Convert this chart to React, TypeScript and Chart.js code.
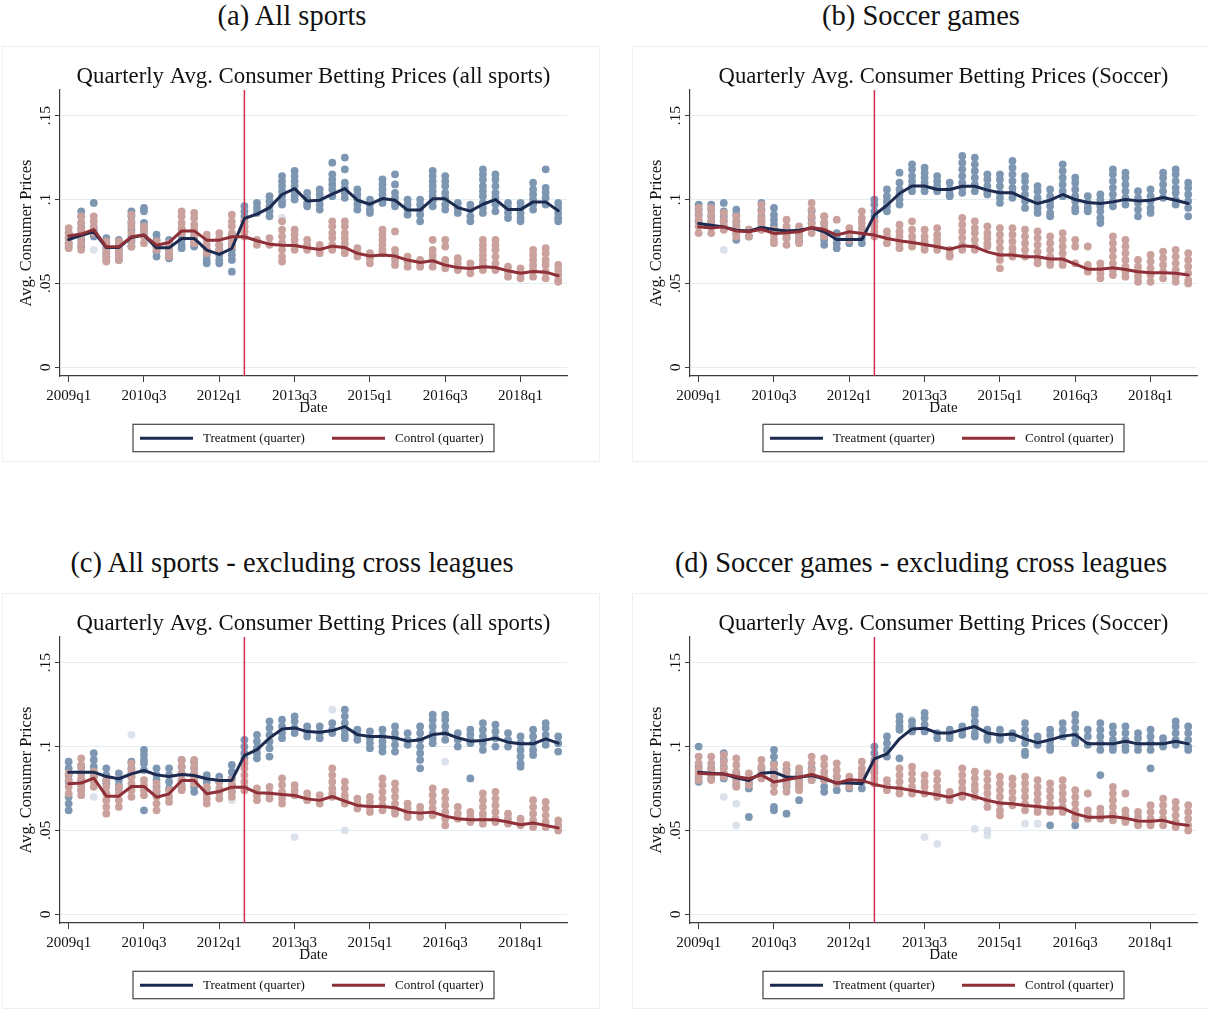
import React, { useEffect, useRef } from "react";
import { Chart, registerables } from "chart.js";

Chart.register(...registerables);

// ---------- categories / labels ----------
const quarters = [
  "2009q1", "2009q2", "2009q3", "2009q4", "2010q1", "2010q2", "2010q3", "2010q4",
  "2011q1", "2011q2", "2011q3", "2011q4", "2012q1", "2012q2", "2012q3", "2012q4",
  "2013q1", "2013q2", "2013q3", "2013q4", "2014q1", "2014q2", "2014q3", "2014q4",
  "2015q1", "2015q2", "2015q3", "2015q4", "2016q1", "2016q2", "2016q3", "2016q4",
  "2017q1", "2017q2", "2017q3", "2017q4", "2018q1", "2018q2", "2018q3", "2018q4",
];
const xTickLabels = ["2009q1", "2010q3", "2012q1", "2013q3", "2015q1", "2016q3", "2018q1"];
const yTickValues = [0, 0.05, 0.1, 0.15];
const yTickLabels = ["0", ".05", ".1", ".15"];
const policyQuarter = "2012q3";
const seriesNames = ["Treatment (quarter)", "Control (quarter)"];
const yAxisTitle = "Avg. Consumer Prices";
const xAxisTitle = "Date";
const captions = [
  "(a) All sports",
  "(b) Soccer games",
  "(c) All sports - excluding cross leagues",
  "(d) Soccer games - excluding cross leagues",
];
const titles = [
  "Quarterly Avg. Consumer Betting Prices (all sports)",
  "Quarterly Avg. Consumer Betting Prices (Soccer)",
  "Quarterly Avg. Consumer Betting Prices (all sports)",
  "Quarterly Avg. Consumer Betting Prices (Soccer)",
];

// ---------- values (in thousandths) ----------
// Panel (a)
const aTreatMean = [76.2, 78.6, 80.8, 71.4, 71.4, 77.4, 78.8, 71.2, 71.2, 76.8, 76.8, 69.8, 67.3, 70.8, 88.7, 91.3, 95.2, 103, 106.5, 99.2, 99.6, 103.2, 106.5, 99.6, 97.2, 100.6, 99.6, 93.7, 93.7, 100.4, 100.4, 95.2, 93.1, 97.2, 100, 94, 94, 98.6, 98.6, 93.3];
const aCtrlMean = [78.2, 79.4, 82.1, 71.8, 71.8, 77.8, 78.8, 72.8, 74.4, 81.3, 81.3, 75.8, 75.8, 77.8, 77.8, 75.4, 73.4, 72.8, 72.6, 71.2, 70.2, 72.2, 71.4, 67.9, 66.3, 66.9, 66.3, 63.9, 62.5, 63.5, 60.9, 59.5, 58.9, 59.9, 59.5, 57.5, 56, 57.1, 56.7, 54.6];
const aTreatDots = [
  [80, 77, 74, 72], [93, 90, 86, 83, 80, 76, 72], [98, 82, 80, 78], [77, 74, 71, 68, 66, 64],
  [76, 73, 70, 67, 64], [93, 90, 86, 82, 78, 75, 72], [95, 93, 86, 82, 79], [79, 76, 72, 69, 66],
  [76, 73, 70, 67, 65], [82, 79, 76, 73, 71], [81, 78, 75, 72], [70, 67, 64, 62],
  [73, 70, 67, 64, 62], [79, 76, 73, 70, 67, 64, 57], [96, 93, 90, 87, 84, 81], [98, 95, 92],
  [102, 99, 96, 93, 90], [114, 111, 108, 105, 102, 99, 97], [117, 114, 111, 108, 105, 102, 100], [104, 101, 98, 96],
  [106, 103, 100, 97, 94], [122, 115, 112, 109, 106, 102], [125, 118, 110, 107, 104, 101], [106, 103, 100, 97, 94],
  [100, 97, 94, 92], [112, 109, 106, 103, 100, 98], [115, 109, 104, 101, 98, 96], [100, 97, 94, 91],
  [100, 97, 94, 91, 87], [117, 114, 111, 108, 105, 102, 99, 96], [114, 111, 108, 104, 101, 97, 94], [98, 95, 92],
  [97, 94, 90, 87], [118, 115, 112, 108, 105, 102, 98, 95, 92], [115, 112, 108, 104, 101, 97, 93], [98, 95, 92, 89],
  [98, 95, 92, 89, 87], [110, 106, 103, 100, 97, 94], [118, 107, 104, 101, 97], [98, 95, 92, 89, 87],
];
const aCtrlDots = [
  [83, 80, 77, 74, 71], [90, 86, 82, 78, 74, 70], [90, 87, 84, 80], [75, 72, 69, 66, 63],
  [75, 72, 69, 66, 64], [91, 87, 84, 80, 76, 72], [84, 81, 78, 74], [75, 72, 70],
  [74, 71, 68, 66], [93, 90, 86, 83, 80], [92, 89, 85, 82, 78, 74], [79, 76, 73, 70, 68],
  [80, 77, 73, 70], [91, 87, 84, 80, 76, 72], [87, 84, 81, 78], [76, 73],
  [77, 73], [87, 82, 78, 74, 70, 66, 63], [82, 79, 76, 73, 70], [76, 73, 70],
  [73, 70, 68], [87, 84, 80, 77, 73, 70], [87, 84, 80, 77, 74, 71, 68], [71, 68, 66],
  [68, 65, 62], [82, 79, 76, 73, 70, 68], [81, 70, 67, 64, 61], [66, 63, 60],
  [64, 62, 60], [76, 70, 67, 64, 60], [76, 72, 64, 61, 59], [65, 62, 59, 58],
  [62, 59, 56], [76, 73, 70, 67, 64, 61, 58], [76, 73, 70, 66, 62, 58], [60, 57, 54],
  [59, 56, 53], [70, 67, 64, 61, 58, 54], [71, 68, 64, 61, 57, 53], [61, 58, 55, 52, 51],
];
const aFaintQ = [2, 17];
const aFaintV = [70, 89];

// Panel (b)
const bTreatMean = [85.7, 84.7, 83.7, 81.7, 81.2, 83.3, 82.1, 81.3, 81.7, 83.1, 80.8, 76.2, 76.2, 76.2, 90.7, 96.6, 103.6, 108.1, 108.1, 106, 106, 107.9, 107.9, 105.6, 104, 104, 100.6, 97.6, 99.6, 103, 100, 98.2, 97.6, 98.6, 100, 99.2, 99.6, 101.2, 99.6, 97.6];
const bCtrlMean = [83.7, 83.1, 83.7, 81.2, 80.8, 82.3, 79.8, 80.2, 80.8, 83.3, 82.1, 78.8, 80.8, 79.8, 78.8, 76.8, 75.4, 74.4, 73.2, 71.8, 70.4, 72.4, 71.8, 68.8, 66.9, 66.9, 65.9, 65.9, 64.5, 64.5, 61.5, 58.5, 58.5, 59.3, 58.3, 56.9, 56.3, 56.3, 56, 55];
const bTreatDots = [
  [97, 94, 91, 87], [97, 94, 90, 87, 84], [98, 93, 90, 87], [94, 91, 87, 84, 80, 76],
  [82, 78], [98, 94, 90, 87, 84], [95, 91, 88, 85, 82], [82, 79, 77],
  [82, 79, 75], [93, 89, 86, 83], [90, 86, 83, 79, 76, 73], [80, 77, 74, 71],
  [80, 77, 74], [80, 77, 74], [100, 97, 93, 90, 87], [106, 102, 99, 96, 93],
  [116, 110, 106, 103, 100, 97], [121, 118, 114, 111, 108, 105], [119, 116, 113, 110, 107, 105], [114, 111, 108, 105],
  [110, 106, 103, 102], [126, 122, 118, 114, 110, 107, 104], [125, 121, 117, 113, 109, 105], [115, 112, 108, 105, 103],
  [115, 112, 108, 104, 101, 98], [123, 119, 115, 111, 107, 104, 101], [114, 111, 107, 103, 99, 95], [108, 105, 101, 98, 95, 92],
  [106, 102, 99, 96, 92, 90], [121, 117, 113, 109, 105, 102], [113, 110, 106, 102, 99, 95, 93], [102, 98, 95, 93],
  [103, 100, 96, 93, 89, 86], [118, 115, 111, 107, 103, 99, 96], [116, 113, 109, 105, 101, 97], [105, 101, 98, 94, 90],
  [106, 102, 99, 95, 92], [116, 113, 109, 105, 101], [118, 115, 111, 107, 104, 100, 97], [110, 107, 103, 99, 95, 90],
];
const bCtrlDots = [
  [95, 91, 88, 84, 80], [95, 91, 87, 84, 80], [92, 88, 85, 82], [90, 86, 83, 80, 78],
  [82, 78], [97, 93, 89, 86, 82], [82, 79, 76, 74], [88, 84, 80, 77, 73],
  [84, 80, 77, 74], [98, 94, 90, 86, 83, 80], [90, 86, 83, 80, 78], [88],
  [83, 80, 76], [93, 89, 86, 83, 80], [87, 84, 81, 78], [81, 78, 74],
  [85, 81, 78, 74, 71], [87, 82, 78, 75, 72], [82, 78, 75, 72, 70], [83, 79, 76, 73, 70],
  [70, 67, 66], [89, 85, 81, 77, 73, 70], [87, 83, 80, 76, 72, 70], [84, 80, 77, 74, 72],
  [83, 79, 75, 71, 67, 64, 59], [83, 79, 75, 71, 68, 66], [82, 78, 74, 70, 66], [81, 77, 73, 69, 65, 62],
  [78, 74, 70, 66, 63, 61], [80, 76, 72, 68, 64, 61], [76, 72, 62], [72, 61, 59, 57],
  [62, 59, 56, 53], [78, 74, 70, 66, 62, 58, 55], [76, 72, 68, 64, 60, 57, 54], [64, 60, 57, 54, 51],
  [67, 63, 59, 55, 51], [69, 65, 61, 57, 53], [70, 66, 62, 58, 54, 51], [68, 64, 60, 56, 52, 50],
];
const bFaintQ = [2];
const bFaintV = [70];

// Panel (c)
const cTreatMean = [84.7, 84.7, 84.7, 82.1, 80.8, 83.7, 85.7, 83.1, 82.1, 83.3, 82.7, 80.8, 79.8, 79.8, 94.6, 98.2, 105, 110.5, 111.1, 108.9, 108.5, 109.5, 111.9, 107.1, 106, 106, 105.2, 103.2, 104, 107.1, 107.9, 105.2, 103.2, 103.6, 105, 102.6, 101.6, 101.6, 104.6, 102];
const cCtrlMean = [77.8, 78.2, 81.2, 70.4, 70.4, 76.2, 76.2, 69.8, 71.8, 79.8, 79.8, 71.8, 73.2, 75.8, 75.8, 72.4, 72.2, 71.4, 70.8, 68.8, 67.9, 70.2, 67.5, 64.9, 64.3, 64.3, 63.5, 60.9, 60.3, 60.9, 58.5, 56.9, 56.3, 56.3, 56.3, 55, 53.4, 54.4, 53, 51.4];
const cTreatDots = [
  [91, 87, 83, 79, 70, 66, 62], [88, 84, 80, 77, 74], [96, 92, 88, 85, 82], [87, 83, 80, 78],
  [84, 80, 77, 75], [91, 87, 84, 82], [98, 95, 92, 90, 86, 62], [87, 83, 80, 76, 73],
  [87, 83, 79, 75], [92, 88, 84, 80, 77, 75], [91, 87, 83, 79, 76, 73], [83, 79, 75],
  [82, 79], [89, 85, 81, 77, 73], [104, 100, 96, 93, 90], [107, 103, 99, 96, 93],
  [115, 111, 107, 103, 99, 94], [116, 112, 108, 105], [118, 115, 111, 108], [112, 109, 106],
  [112, 108, 105], [114, 110, 108], [122, 118, 114, 110, 107, 105], [110, 107, 104],
  [109, 105, 102, 99], [110, 106, 103, 100, 97], [112, 108, 105, 101, 97], [108, 104, 101],
  [112, 108, 104, 100, 96, 92, 87], [119, 116, 112, 108, 105, 102], [119, 116, 112, 108, 104], [108, 104, 100],
  [110, 107, 104, 102, 81], [114, 110, 106, 102, 98], [113, 109, 105, 100], [108, 104, 100],
  [106, 102, 98, 94, 90, 88], [110, 106, 102, 98, 95], [114, 111, 107, 104, 101], [106, 102, 97],
];
const cCtrlDots = [
  [84, 80, 76, 72], [93, 89, 85, 81, 77, 74, 71], [85, 82, 79, 76], [80, 76, 72, 68, 64, 60],
  [76, 72, 68, 64], [90, 86, 82, 78, 74, 70], [80, 77, 74, 71], [78, 74, 70, 66, 62],
  [74, 70, 67], [92, 88, 84, 80, 76, 74], [92, 88, 84, 81, 78], [76, 72, 69, 66],
  [79, 75, 72, 69], [80, 77, 73, 70], [91, 87, 83, 79, 76, 74], [75, 71, 68],
  [76, 72, 69], [81, 77, 73, 69, 66], [77, 74, 71], [72, 69, 68],
  [71, 68, 66], [87, 83, 79, 75, 72, 70], [79, 75, 71, 68, 66], [69, 66, 63],
  [70, 67, 64, 61], [81, 77, 73, 69, 65, 62], [78, 74, 70, 66, 62, 60], [66, 63, 60, 58],
  [64, 61, 58], [75, 71, 67, 63, 59], [73, 69, 65, 61, 57, 53], [64, 60, 57],
  [61, 58, 55], [72, 68, 64, 60, 57, 54], [73, 69, 65, 61, 57, 55], [60, 57, 54],
  [57, 54, 53], [68, 64, 60, 56, 52], [67, 63, 59, 55, 52], [56, 53, 50],
];
const cFaintQ = [2, 5, 13, 21, 26, 30, 36, 18, 22];
const cFaintV = [70, 107, 68, 122, 97, 91, 96, 46, 50];

// Panel (d)
const dTreatMean = [84.7, 84.1, 83.7, 81.3, 79.8, 84.1, 84.7, 81.7, 81.7, 82.7, 80.8, 78.2, 78.2, 77.8, 92.7, 95.6, 104.6, 110.5, 110.9, 108.1, 108.1, 110.1, 111.9, 108.1, 106.9, 107.5, 104.6, 102.2, 104, 106.2, 107.1, 101.6, 101.6, 101.6, 103.2, 101.6, 101.6, 101.6, 103.2, 101.6];
const dCtrlMean = [84.1, 83.7, 83.7, 82.1, 80.8, 83.1, 78.8, 80.2, 81.7, 83.3, 81.2, 78.2, 80.2, 79.8, 77.4, 75.8, 75.2, 73.8, 72.4, 71.2, 69.8, 72.2, 70.2, 67.9, 66.3, 65.9, 64.9, 64.3, 63.3, 63.3, 59.9, 57.9, 57.9, 58.3, 57.3, 55.6, 55.4, 56, 54, 53];
const dTreatDots = [
  [100, 88, 85, 82, 79], [87, 84, 81], [96, 92, 88, 84, 81], [84, 80, 77],
  [81, 78, 75, 58], [87, 83], [98, 94, 90, 86, 82, 64, 62], [86, 82, 78, 76, 60],
  [84, 80, 77, 68], [87, 83, 80], [80, 76, 73], [82, 78, 74],
  [78, 75], [79, 75], [100, 96, 92, 88, 85], [106, 102, 98, 94],
  [118, 115, 112, 110, 93], [115, 112, 109], [120, 117, 113, 110, 109], [108, 105],
  [110, 107, 105], [112, 110, 107], [122, 119, 115, 112, 108, 106], [110, 106, 104],
  [110, 106, 104], [108, 105], [114, 110, 106, 102, 97, 95], [106, 103, 101],
  [110, 107, 103, 100, 98, 53], [114, 110, 106], [119, 115, 111, 107, 103, 102, 53], [110, 106, 101],
  [114, 110, 106, 102, 98, 83], [112, 108, 104, 100, 98], [112, 108, 104, 100, 98], [108, 105, 101, 98],
  [110, 106, 102, 98, 87], [105, 102, 100], [115, 112, 108, 104, 101], [112, 108, 104, 100, 98],
];
const dCtrlDots = [
  [94, 90, 86, 83, 80], [94, 90, 86, 83, 80], [95, 91, 87, 84, 82], [93, 89, 85, 81, 78, 76],
  [84, 80, 77], [92, 88, 84, 81], [89, 85, 81, 77, 73], [89, 85, 81, 77, 73],
  [87, 83, 79, 76, 74], [94, 90, 86, 83, 80], [93, 89, 85, 82, 80], [90, 86, 82, 78],
  [82, 79, 76], [91, 87, 84, 82], [91, 87, 84, 81, 78], [80, 77, 74],
  [87, 83, 79, 75, 72], [88, 84, 80, 76, 72], [83, 79, 76, 72], [84, 80, 76, 73, 70],
  [73, 70, 68], [87, 83, 79, 75, 72, 70], [85, 81, 77, 74, 70], [84, 80, 76, 72, 68, 64],
  [82, 78, 74, 70, 66, 62, 59], [81, 77, 73, 69, 65], [82, 78, 74, 70, 66, 62], [80, 76, 72, 68, 64, 61],
  [78, 74, 70, 66, 63, 61], [80, 76, 72, 68, 64, 61], [74, 70, 66, 62, 58, 57], [72, 62, 59, 57],
  [63, 60, 57], [76, 72, 68, 64, 60, 56], [72, 62, 59, 56, 55], [61, 58, 55, 53],
  [65, 61, 57, 54, 53], [69, 65, 61, 57, 53], [67, 63, 59, 55, 52], [65, 61, 57, 53, 50],
];
const dFaintQ = [2, 3, 3, 17, 18, 19, 22, 23, 23, 26, 27];
const dFaintV = [70, 66, 53, 116, 46, 42, 51, 50, 47, 54, 54];

// ---------- styling / layout ----------
const FF = "'Liberation Serif', 'Times New Roman', serif";
const CW = 578;
const CH = 430;
const AREA = { left: 60, top: 50, right: 567, bottom: 336 };
const X_MIN = -0.69;
const X_MAX = 39.7;
const Y_MIN = -0.0052;
const Y_MAX = 0.1653;
const NAVY = "#1c2a50";
const MAROON = "#8f2f37";
const DOT_BLUE = "#7d97b3";
const DOT_RED = "#caa19c";
const FAINT = "rgba(205,214,228,0.7)";
const VLINE = "#d42a50";
const AXIS = "#3c3c3c";
const GRID = "#e4eef0";

type PanelSpec = {
  left: number; top: number; title: string; titleWidth: number;
  treatMean: number[]; ctrlMean: number[]; treatDots: number[][]; ctrlDots: number[][];
  faintQ: number[]; faintV: number[];
};

const panels: PanelSpec[] = [
  { left: 0, top: 40, title: titles[0], titleWidth: 474, treatMean: aTreatMean, ctrlMean: aCtrlMean, treatDots: aTreatDots, ctrlDots: aCtrlDots, faintQ: aFaintQ, faintV: aFaintV },
  { left: 630, top: 40, title: titles[1], titleWidth: 450, treatMean: bTreatMean, ctrlMean: bCtrlMean, treatDots: bTreatDots, ctrlDots: bCtrlDots, faintQ: bFaintQ, faintV: bFaintV },
  { left: 0, top: 587, title: titles[2], titleWidth: 474, treatMean: cTreatMean, ctrlMean: cCtrlMean, treatDots: cTreatDots, ctrlDots: cCtrlDots, faintQ: cFaintQ, faintV: cFaintV },
  { left: 630, top: 587, title: titles[3], titleWidth: 450, treatMean: dTreatMean, ctrlMean: dCtrlMean, treatDots: dTreatDots, ctrlDots: dCtrlDots, faintQ: dFaintQ, faintV: dFaintV },
];

const captionPos = [
  { cx: 292, cy: 16 }, { cx: 921, cy: 16 }, { cx: 292, cy: 563 }, { cx: 921, cy: 563 },
];
const borderBoxes = [
  { left: 2, top: 46, width: 598, height: 416 },
  { left: 632, top: 46, width: 580, height: 416 },
  { left: 2, top: 593, width: 598, height: 416 },
  { left: 632, top: 593, width: 580, height: 416 },
];

function fitFont(ctx: CanvasRenderingContext2D, text: string, width: number, base = 20) {
  ctx.font = `${base}px ${FF}`;
  const w = ctx.measureText(text).width;
  const size = (base * width) / w;
  ctx.font = `${size}px ${FF}`;
  return size;
}

function dotPoints(dots: number[][]) {
  const pts: { x: number; y: number }[] = [];
  dots.forEach((vals, i) => vals.forEach((v) => pts.push({ x: i, y: v / 1000 })));
  return pts;
}
function meanPoints(m: number[]) {
  return m.map((v, i) => ({ x: i, y: v / 1000 }));
}

function makeDecor(spec: PanelSpec) {
  return {
    id: "decor",
    afterDraw(chart: any) {
      const { ctx, chartArea: ca, scales } = chart;
      const ys = scales.y;
      const cx = (ca.left + ca.right) / 2;
      ctx.save();
      ctx.fillStyle = "#111";
      // title
      ctx.textAlign = "center";
      ctx.textBaseline = "alphabetic";
      fitFont(ctx, spec.title, spec.titleWidth);
      ctx.fillText(spec.title, cx, 43);
      // y tick labels (rotated)
      ctx.font = `15.5px ${FF}`;
      yTickValues.forEach((v, i) => {
        const py = ys.getPixelForValue(v);
        ctx.save();
        ctx.translate(49.5, py);
        ctx.rotate(-Math.PI / 2);
        ctx.textAlign = "center";
        ctx.fillText(yTickLabels[i], 0, 0);
        ctx.restore();
      });
      // y axis title
      ctx.save();
      fitFont(ctx, yAxisTitle, 147);
      ctx.translate(31, 193);
      ctx.rotate(-Math.PI / 2);
      ctx.textAlign = "center";
      ctx.fillText(yAxisTitle, 0, 0);
      ctx.restore();
      // x tick labels
      ctx.font = `15px ${FF}`;
      ctx.textAlign = "center";
      xTickLabels.forEach((lab) => {
        const px = scales.x.getPixelForValue(quarters.indexOf(lab));
        ctx.fillText(lab, px, 360);
      });
      // x axis title
      ctx.fillText(xAxisTitle, cx, 372);
      // legend
      const box = { l: 133, t: 384.3, r: 494, b: 411.7 };
      ctx.strokeStyle = "#444";
      ctx.lineWidth = 1.2;
      ctx.strokeRect(box.l, box.t, box.r - box.l, box.b - box.t);
      const ly = 398.3;
      const items = [
        { x0: 140, x1: 193, tx: 203, color: NAVY, label: seriesNames[0] },
        { x0: 332, x1: 385, tx: 395, color: MAROON, label: seriesNames[1] },
      ];
      const fs = fitFont(ctx, seriesNames[0], 102, 12);
      ctx.font = `${fs}px ${FF}`;
      ctx.textAlign = "left";
      items.forEach((it) => {
        ctx.strokeStyle = it.color;
        ctx.lineWidth = 3;
        ctx.beginPath();
        ctx.moveTo(it.x0, ly);
        ctx.lineTo(it.x1, ly);
        ctx.stroke();
        ctx.fillStyle = "#111";
        ctx.fillText(it.label, it.tx, 402);
      });
      ctx.restore();
    },
  };
}

function Panel({ spec }: { spec: PanelSpec }) {
  const ref = useRef<HTMLCanvasElement>(null);
  useEffect(() => {
    const canvas = ref.current;
    if (!canvas) return;
    const policyIdx = quarters.indexOf(policyQuarter);
    const xTickIdx = xTickLabels.map((l) => quarters.indexOf(l));
    const chart = new Chart(canvas, {
      type: "scatter",
      data: {
        datasets: [
          {
            type: "line",
            label: seriesNames[1],
            data: meanPoints(spec.ctrlMean),
            borderColor: MAROON,
            borderWidth: 3,
            pointRadius: 0,
            borderJoinStyle: "round",
            borderCapStyle: "round",
            tension: 0,
            order: 0,
          } as any,
          {
            type: "line",
            label: seriesNames[0],
            data: meanPoints(spec.treatMean),
            borderColor: NAVY,
            borderWidth: 3,
            pointRadius: 0,
            borderJoinStyle: "round",
            borderCapStyle: "round",
            tension: 0,
            order: 1,
          } as any,
          {
            type: "line",
            label: "policy",
            data: [
              { x: policyIdx, y: Y_MIN },
              { x: policyIdx, y: Y_MAX },
            ],
            borderColor: VLINE,
            borderWidth: 1.5,
            pointRadius: 0,
            order: 2,
          } as any,
          {
            label: "ctrl dots",
            data: dotPoints(spec.ctrlDots),
            backgroundColor: DOT_RED,
            borderWidth: 0,
            pointRadius: 3.9,
            order: 3,
          },
          {
            label: "treat dots",
            data: dotPoints(spec.treatDots),
            backgroundColor: DOT_BLUE,
            borderWidth: 0,
            pointRadius: 3.9,
            order: 4,
          },
          {
            label: "faint dots",
            data: spec.faintQ.map((q, k) => ({ x: q, y: spec.faintV[k] / 1000 })),
            backgroundColor: FAINT,
            borderWidth: 0,
            pointRadius: 3.9,
            order: 5,
          },
        ],
      },
      options: {
        responsive: false,
        animation: false,
        devicePixelRatio: 1,
        layout: {
          autoPadding: false,
          padding: { left: 0, top: AREA.top, right: CW - AREA.right, bottom: 0 },
        },
        plugins: {
          legend: { display: false },
          title: { display: false },
          tooltip: { enabled: false },
        },
        scales: {
          x: {
            type: "linear",
            min: X_MIN,
            max: X_MAX,
            afterBuildTicks: (s: any) => {
              s.ticks = xTickIdx.map((v) => ({ value: v }));
            },
            afterFit: (s: any) => {
              s.height = CH - AREA.bottom;
            },
            ticks: { display: false },
            grid: { drawOnChartArea: false, drawTicks: true, tickLength: 6, tickColor: AXIS, lineWidth: 1 },
            border: { display: true, color: AXIS, width: 1.2 },
          },
          y: {
            type: "linear",
            min: Y_MIN,
            max: Y_MAX,
            afterBuildTicks: (s: any) => {
              s.ticks = yTickValues.map((v) => ({ value: v }));
            },
            afterFit: (s: any) => {
              s.width = AREA.left;
            },
            ticks: { display: false },
            grid: { drawOnChartArea: true, color: GRID, drawTicks: true, tickLength: 5, tickColor: AXIS, lineWidth: 1 },
            border: { display: true, color: AXIS, width: 1.2 },
          },
        },
      } as any,
      plugins: [makeDecor(spec)],
    });
    return () => chart.destroy();
  }, [spec]);
  return (
    <canvas
      ref={ref}
      width={CW}
      height={CH}
      style={{ position: "absolute", left: spec.left, top: spec.top, width: CW, height: CH }}
    />
  );
}

export default function App() {
  return (
    <div
      style={{
        position: "absolute",
        left: 0,
        top: 0,
        width: 1208,
        height: 1017,
        overflow: "hidden",
        background: "#fff",
        fontFamily: FF,
      }}
    >
      {borderBoxes.map((b, i) => (
        <div
          key={"b" + i}
          style={{
            position: "absolute",
            left: b.left,
            top: b.top,
            width: b.width,
            height: b.height,
            border: "1px solid #efefef",
            boxSizing: "border-box",
          }}
        />
      ))}
      {captions.map((c, i) => (
        <div
          key={"c" + i}
          style={{
            position: "absolute",
            left: captionPos[i].cx - 300,
            top: captionPos[i].cy - 16,
            width: 600,
            height: 32,
            lineHeight: "32px",
            textAlign: "center",
            fontSize: 28.5,
            color: "#111",
            whiteSpace: "nowrap",
          }}
        >
          {c}
        </div>
      ))}
      {panels.map((p, i) => (
        <Panel key={i} spec={p} />
      ))}
    </div>
  );
}
